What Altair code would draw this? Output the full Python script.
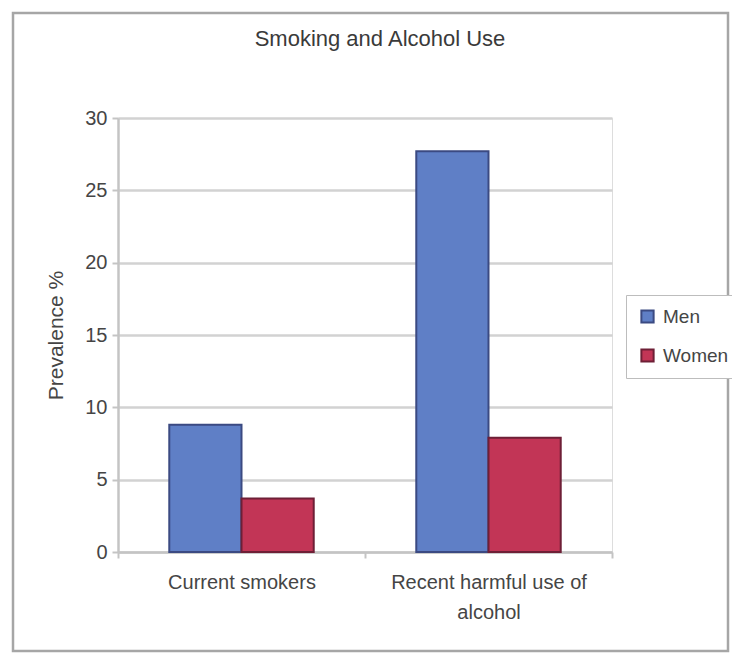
import altair as alt
import pandas as pd

# Survey results: prevalence (%) by behaviour and sex
categories = ["Current  smokers", "Recent harmful use of\nalcohol"]
groups = ["Men", "Women"]
men_values = [8.8, 27.7]
women_values = [3.7, 7.9]

fill_colors = ["#5f7fc6", "#c23556"]
edge_colors = ["#3b4a82", "#6e1f36"]

rows = []
for cat, m, w in zip(categories, men_values, women_values):
    rows.append({"category": cat, "sex": "Men", "value": m})
    rows.append({"category": cat, "sex": "Women", "value": w})
df = pd.DataFrame(rows)

FONT = "Liberation Sans"
TEXT = "#454545"
W, H = 494, 434

legend_style = dict(
    title=None,
    orient="none",
    legendX=508,
    legendY=177,
    symbolType="square",
    symbolSize=150,
    symbolStrokeWidth=2,
    labelFontSize=19,
    labelFont=FONT,
    labelColor=TEXT,
    labelOffset=6,
    rowPadding=18,
    padding=12,
    strokeColor="#bdbdbd",
    fillColor="white",
)

bars = alt.Chart(df).mark_bar(strokeWidth=2).encode(
    x=alt.X(
        "category:N",
        sort=categories,
        title=None,
        scale=alt.Scale(paddingInner=0, paddingOuter=0),
        axis=alt.Axis(
            labelAngle=0,
            tickBand="extent",
            labelExpr="split(datum.label, '\\n')",
            labelFontSize=20,
            labelLineHeight=30,
            labelPadding=14,
            labelLimit=400,
            labelColor=TEXT,
            labelFont=FONT,
            domainColor="#c4c4c4",
            domainWidth=2.5,
            tickColor="#c4c4c4",
            tickWidth=2,
            tickSize=6,
            grid=False,
        ),
    ),
    xOffset=alt.XOffset(
        "sex:N",
        sort=groups,
        scale=alt.Scale(paddingInner=0, paddingOuter=0.71),
    ),
    y=alt.Y(
        "value:Q",
        title="Prevalence %",
        scale=alt.Scale(domain=[0, 30], nice=False),
        axis=alt.Axis(
            values=[0, 5, 10, 15, 20, 25, 30],
            labelFontSize=20,
            labelColor=TEXT,
            labelFont=FONT,
            labelPadding=5,
            titleFontSize=21,
            titleFont=FONT,
            titleColor=TEXT,
            titleFontWeight="normal",
            titlePadding=18,
            domainColor="#c4c4c4",
            domainWidth=2.5,
            tickColor="#c4c4c4",
            tickWidth=2,
            tickSize=6,
            gridColor="#d2d2d2",
            gridWidth=2.5,
        ),
    ),
    fill=alt.Fill(
        "sex:N",
        sort=groups,
        scale=alt.Scale(domain=groups, range=fill_colors),
        legend=alt.Legend(**legend_style),
    ),
    stroke=alt.Stroke(
        "sex:N",
        sort=groups,
        scale=alt.Scale(domain=groups, range=edge_colors),
        legend=alt.Legend(**legend_style),
    ),
)

# Outer border drawn around the whole figure
frame = alt.Chart(pd.DataFrame({"k": [0]})).mark_rect(
    fill=None, stroke="#a6a6a6", strokeWidth=2.5
).encode(
    x=alt.value(-105),
    x2=alt.value(610),
    y=alt.value(-105),
    y2=alt.value(533),
)

chart = alt.layer(frame, bars).properties(
    width=W,
    height=H,
    title=alt.TitleParams(
        "Smoking and Alcohol Use",
        fontSize=22,
        font=FONT,
        color="#3a3a3a",
        fontWeight="normal",
        anchor="middle",
        dx=15,
        offset=0,
        dy=39,
    ),
    autosize=alt.AutoSizeParams(type="none"),
    padding={"left": 118, "top": 118, "right": 120, "bottom": 104},
).configure_view(stroke=None).configure(background="white")

chart.save("out.html", embed_options={"renderer": "svg", "actions": False})
